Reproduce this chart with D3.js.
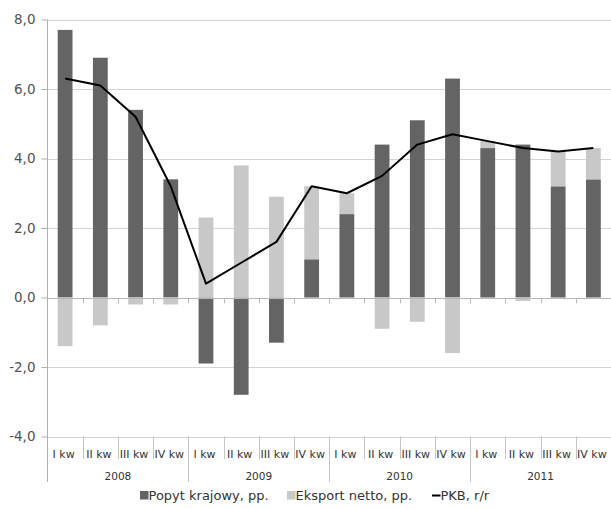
<!DOCTYPE html>
<html>
<head>
<meta charset="utf-8">
<script src="https://cdn.jsdelivr.net/npm/d3@7"></script>
<style>
  html, body { margin: 0; padding: 0; background: #fff; }
  svg { display: block; font-family: "DejaVu Sans", Verdana, sans-serif; }
</style>
</head>
<body>
<svg id="chart" width="611" height="509"></svg>
<script>
// Quarterly GDP growth decomposition, 2008–2011
const years = ["2008", "2009", "2010", "2011"];
const quarters = ["I kw", "II kw", "III kw", "IV kw"];
const domesticDemand = [7.7, 6.9, 5.4, 3.4, -1.9, -2.8, -1.3, 1.1, 2.4, 4.4, 5.1, 6.3, 4.3, 4.4, 3.2, 3.4];
const netExports    = [-1.4, -0.8, -0.2, -0.2, 2.3, 3.8, 2.9, 2.1, 0.6, -0.9, -0.7, -1.6, 0.2, -0.1, 1.0, 0.9];
const gdp           = [6.3, 6.1, 5.2, 3.2, 0.4, 1.0, 1.6, 3.2, 3.0, 3.5, 4.4, 4.7, 4.5, 4.3, 4.2, 4.3];
const yTicks = [-4, -2, 0, 2, 4, 6, 8];
const seriesNames = ["Popyt krajowy, pp.", "Eksport netto, pp.", "PKB, r/r"];

const colors = { dom: "#646464", exp: "#c8c8c8", line: "#000000" };

const svg = d3.select("#chart");
const plotLeft = 47.5, plotRight = 611, plotTop = 19.5, plotBottom = 436.5;

const periods = [];
years.forEach(yr => quarters.forEach(q => periods.push({ key: yr + "-" + q, year: yr, q })));
const rows = periods.map((p, i) => ({ key: p.key, dom: domesticDemand[i], exp: netExports[i] }));

const x = d3.scaleBand().domain(periods.map(p => p.key)).range([plotLeft, plotRight]).padding(0);
const y = d3.scaleLinear().domain([-4, 8]).range([plotBottom, plotTop]);
const fmt = v => d3.format(".1f")(v).replace(".", ",").replace("\u2212", "-");

// horizontal gridlines
svg.append("g").selectAll("line").data(yTicks).join("line")
  .attr("x1", plotLeft).attr("x2", plotRight)
  .attr("y1", d => Math.round(y(d)) + 0.5).attr("y2", d => Math.round(y(d)) + 0.5)
  .attr("stroke", "#d4d4d4").attr("stroke-width", 1);

// y axis
const yAxis = d3.axisLeft(y).tickValues(yTicks).tickFormat(fmt).tickSize(6).tickPadding(6);
const gy = svg.append("g").attr("transform", `translate(${plotLeft},0)`).call(yAxis);
gy.select(".domain").remove();
gy.selectAll(".tick line").attr("stroke", "#b0b0b0");
gy.selectAll(".tick text").attr("font-size", 13.5).attr("fill", "#505050")
  .attr("font-family", "DejaVu Sans, Verdana, sans-serif");
svg.append("line").attr("x1", plotLeft).attr("x2", plotLeft).attr("y1", plotTop).attr("y2", 482)
  .attr("stroke", "#b0b0b0");

// stacked bars (positive and negative parts stack separately)
const stack = d3.stack().keys(["dom", "exp"]).offset(d3.stackOffsetDiverging);
const stacked = stack(rows);
const barW = x.bandwidth() * 0.42;
svg.append("g").selectAll("g").data(stacked).join("g")
  .attr("fill", d => colors[d.key])
  .selectAll("rect").data(d => d).join("rect")
  .attr("x", d => x(d.data.key) + (x.bandwidth() - barW) / 2)
  .attr("width", barW)
  .attr("y", d => y(Math.max(d[0], d[1])))
  .attr("height", d => Math.abs(y(d[0]) - y(d[1])));

// zero axis with small ticks between quarters
const y0 = Math.round(y(0)) + 0.5;
svg.append("line").attr("x1", plotLeft).attr("x2", plotRight).attr("y1", y0).attr("y2", y0)
  .attr("stroke", "#b8b8b8");
svg.append("g").selectAll("line").data(periods.slice(1)).join("line")
  .attr("x1", d => Math.round(x(d.key)) + 0.5).attr("x2", d => Math.round(x(d.key)) + 0.5)
  .attr("y1", y0).attr("y2", y0 + 5).attr("stroke", "#b8b8b8");

// GDP line
const line = d3.line().x((d, i) => x(periods[i].key) + x.bandwidth() / 2).y(d => y(d));
svg.append("path").datum(gdp).attr("d", line)
  .attr("fill", "none").attr("stroke", colors.line).attr("stroke-width", 2)
  .attr("stroke-linejoin", "round");

// category axis: quarters and years
const sepColor = "#c4c4c4";
svg.append("g").selectAll("line").data(periods.slice(1)).join("line")
  .attr("x1", d => Math.round(x(d.key)) + 0.5).attr("x2", d => Math.round(x(d.key)) + 0.5)
  .attr("y1", plotBottom).attr("y2", d => d.q === quarters[0] ? 482 : 459)
  .attr("stroke", sepColor);
svg.append("g").selectAll("text").data(periods).join("text")
  .attr("x", d => x(d.key) + x.bandwidth() / 2 - 1.5)
  .attr("y", 457.5).attr("text-anchor", "middle")
  .attr("font-size", 11).attr("fill", "#333")
  .text(d => d.q);
svg.append("g").selectAll("text").data(years).join("text")
  .attr("x", yr => {
    const a = x(yr + "-" + quarters[0]), b = x(yr + "-" + quarters[3]) + x.bandwidth();
    return (a + b) / 2;
  })
  .attr("y", 479.5).attr("text-anchor", "middle")
  .attr("font-size", 10.5).attr("fill", "#333")
  .text(d => d);

// legend
const legend = svg.append("g").attr("font-size", 13).attr("fill", "#333");
const items = [
  { name: seriesNames[0], type: "rect", color: colors.dom, x: 140 },
  { name: seriesNames[1], type: "rect", color: colors.exp, x: 287 },
  { name: seriesNames[2], type: "line", color: colors.line, x: 432 }
];
items.forEach(it => {
  if (it.type === "rect") {
    legend.append("rect").attr("x", it.x).attr("y", 491).attr("width", 8.5).attr("height", 8.5)
      .attr("fill", it.color);
  } else {
    legend.append("line").attr("x1", it.x).attr("x2", it.x + 8.5).attr("y1", 495.5).attr("y2", 495.5)
      .attr("stroke", it.color).attr("stroke-width", 2);
  }
  legend.append("text").attr("x", it.x + 8.5).attr("y", 500).text(it.name);
});
</script>
</body>
</html>
